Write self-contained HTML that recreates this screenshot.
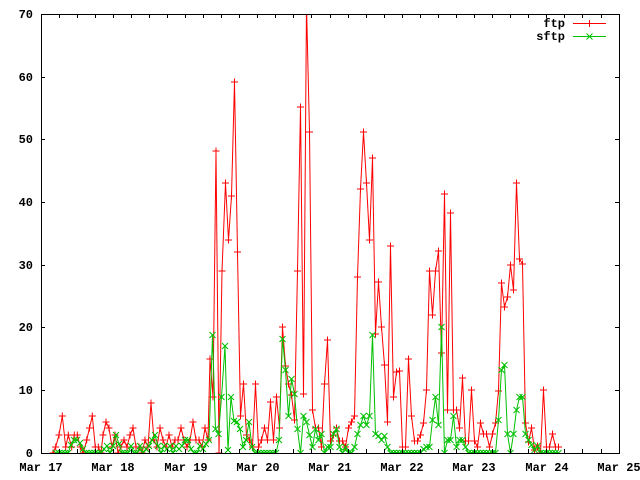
<!DOCTYPE html>
<html><head><meta charset="utf-8"><style>
html,body{margin:0;padding:0;background:#fff;}
svg{display:block;}
text{font-family:"Liberation Mono","DejaVu Sans Mono",monospace;font-weight:bold;font-size:12px;fill:#000;}
</style></head><body>
<svg width="640" height="480" viewBox="0 0 640 480" xmlns="http://www.w3.org/2000/svg">
<defs>
<clipPath id="pa"><rect x="41" y="14" width="578" height="439"/></clipPath>
<marker id="mp" markerUnits="userSpaceOnUse" markerWidth="10" markerHeight="10" refX="5" refY="5" overflow="visible">
<path d="M1.5,5H8.5M5,1.5V8.5" stroke="#ff0000" stroke-width="1" fill="none"/>
</marker>
<marker id="mx" markerUnits="userSpaceOnUse" markerWidth="10" markerHeight="10" refX="5" refY="5" overflow="visible">
<path d="M2,2L8,8M2,8L8,2" stroke="#00c000" stroke-width="1" fill="none"/>
</marker>
</defs>
<rect width="640" height="480" fill="#fff"/>
<g clip-path="url(#pa)">
<polyline fill="none" stroke="#ff0000" stroke-width="1" marker-start="url(#mp)" marker-mid="url(#mp)" marker-end="url(#mp)" points="53,453 55.7,447 59,435 62.3,416 65.7,447 68.3,435 71.7,447 74.3,435 77.3,435 80.3,447 83.3,453 86.7,440 89.5,428 92.3,416 95.3,447 98.3,447 101,453 103,435 106,422 109,428 112,447 115,435 118,453 121,447 124,440 127,447 130,435 133,428 136,447 139,447 142,453 145,440 148,447 151,403 154,440 157,447 160,428 163,440 166,447 169,435 172,447 175,440 178,440 181,428 184,440 187,447 190,440 193,422 196,440 199,440 202,447 205,428 208,440 210,359 213,397 216,151 219,453 222,271 225.5,183 228.5,240 231.5,196 234.5,82 237.5,252 240.5,416 243.5,384 246.5,435 249.5,440 252.5,447 255.5,384 258.5,447 261.5,440 264.5,428 267.5,440 270.5,402 273.5,440 276.5,397 279.5,428 282.5,327 285.5,366 288.5,384 291.5,395 294.5,420 297.5,271 300.5,107 303.5,394 306.5,5 309.5,132 312.5,410 315.5,428 318.5,428 321.5,447 324.5,384 327.5,340 330.5,441 333.5,435 336.5,428 339.5,441 342.5,441 345.5,447 348.5,428 351.5,422 354.5,416 357.5,277 360.5,189 363.5,132 366.5,183 369.5,240 372.5,158 375.5,334 378.5,282 381.5,327 384.5,365 387.5,422 390.5,246 393.5,397 396.5,372 399.5,371 402.5,447 405.5,447 408.5,359 411.5,416 414.5,441 417.5,441 420.5,435 423.5,423 426.5,390 429.5,271 432.5,315 435.5,271 438.5,251 441.5,353 444.5,194 447.5,410 450.5,213 453.5,410 456.5,410 459.5,428 462.5,378 465.5,441 468.5,441 471.5,390 474.5,441 477.5,447 480.5,423 483.5,434 486.5,434 489.5,447 492.5,434 495.5,423 498.5,391 501.5,283 504.5,307 507.5,297 510.5,265 513.5,290 516.5,183 519.5,259 522.5,264 525.5,423 528.5,442 531.5,428 534.5,450 537.5,446 540.5,453 543.5,390 546.5,447 549.5,447 552.5,434 555.5,447 558.5,447"/>
<polyline fill="none" stroke="#00c000" stroke-width="1" marker-start="url(#mx)" marker-mid="url(#mx)" marker-end="url(#mx)" points="56,453 59,453 62,453 65,453 68,453 71,445 74,440 77,440 80,443 83,449 86,453 89,453 92,453 95,453 98,453 101,453 104,449 107,446 110,453 113,446 116,435 119,444 122,453 125,453 128,453 131,446 134,453 137,453 140,446 143,453 146,449 149,446 152,440 155,435 158,446 161,453 164,446 167,449 170,446 173,453 176,446 179,449 182,446 185,440 188,440 191,449 194,453 197,453 200,446 203,449 206,444 209,440 212.5,335 215.5,429 218.5,434 221.5,397 225,346 228,450 231,397 234,421 237,422 240,429 243,447 246,440 249,422 252,447 255,453 258,453 261,453 264,453 267,453 270,453 273,453 276,453 279,440 282.5,339 285.5,370 288.5,416 291.5,379 294.5,394 297.5,429 300.5,453 303.5,416 306.5,422 309.5,435 312.5,447 315.5,429 318.5,440 321.5,434 324.5,453 327.5,447 330.5,447 333.5,434 336.5,429 339.5,447 342.5,453 345.5,447 348.5,453 351.5,453 354.5,447 357.5,434 360.5,425 363.5,416 366.5,425 369.5,416 372.5,335 375.5,434 378.5,436 381.5,440 384.5,436 387.5,447 390.5,453 393.5,453 396.5,453 399.5,453 402.5,453 405.5,453 408.5,453 411.5,453 414.5,453 417.5,453 420.5,453 423.5,449 426.5,447 429.5,447 432.5,420 435.5,397 438.5,425 441.5,327 444.5,453 447.5,440 450.5,440 453.5,416 456.5,447 459.5,440 462.5,440 465.5,447 468.5,453 471.5,453 474.5,453 477.5,453 480.5,453 483.5,453 486.5,453 489.5,453 492.5,453 495.5,453 498.5,420 501.5,370 504.5,365 507.5,434 510.5,453 513.5,434 516.5,410 519.5,397 522.5,397 525.5,434 528.5,440 531.5,445 534.5,450 537.5,446 540.5,453 543.5,453 546.5,453 549.5,453 552.5,453 555.5,453 558.5,453"/>
</g>
<g stroke="#000" stroke-width="1" fill="none" shape-rendering="crispEdges">
<rect x="41.5" y="14.5" width="578" height="439"/>
<path d="M41,390.5h4M41,327.5h4M41,265.5h4M41,202.5h4M41,139.5h4M41,77.5h4M619,390.5h-4M619,327.5h-4M619,265.5h-4M619,202.5h-4M619,139.5h-4M619,77.5h-4"/>
<path d="M59.5,453v-4M77.5,453v-4M95.5,453v-4M113.5,453v-4M131.5,453v-4M149.5,453v-4M167.5,453v-4M185.5,453v-4M203.5,453v-4M221.5,453v-4M239.5,453v-4M257.5,453v-4M275.5,453v-4M293.5,453v-4M311.5,453v-4M330.5,453v-4M348.5,453v-4M366.5,453v-4M384.5,453v-4M402.5,453v-4M420.5,453v-4M438.5,453v-4M456.5,453v-4M474.5,453v-4M492.5,453v-4M510.5,453v-4M528.5,453v-4M546.5,453v-4M564.5,453v-4M582.5,453v-4M601.5,453v-4"/>
<path d="M59.5,14v4M77.5,14v4M95.5,14v4M113.5,14v4M131.5,14v4M149.5,14v4M167.5,14v4M185.5,14v4M203.5,14v4M221.5,14v4M239.5,14v4M257.5,14v4M275.5,14v4M293.5,14v4M311.5,14v4M330.5,14v4M348.5,14v4M366.5,14v4M384.5,14v4M402.5,14v4M420.5,14v4M438.5,14v4M456.5,14v4M474.5,14v4M492.5,14v4M510.5,14v4M528.5,14v4M546.5,14v4M564.5,14v4M582.5,14v4M601.5,14v4"/>
</g>
<g text-anchor="end">
<text x="33" y="457">0</text>
<text x="33" y="394">10</text>
<text x="33" y="331">20</text>
<text x="33" y="269">30</text>
<text x="33" y="206">40</text>
<text x="33" y="143">50</text>
<text x="33" y="81">60</text>
<text x="33" y="18">70</text>
</g>
<g text-anchor="middle">
<text x="41" y="471">Mar 17</text>
<text x="113" y="471">Mar 18</text>
<text x="186" y="471">Mar 19</text>
<text x="258" y="471">Mar 20</text>
<text x="330" y="471">Mar 21</text>
<text x="402" y="471">Mar 22</text>
<text x="474" y="471">Mar 23</text>
<text x="547" y="471">Mar 24</text>
<text x="619" y="471">Mar 25</text>
</g>
<text x="565" y="27" text-anchor="end">ftp</text>
<text x="565" y="40" text-anchor="end">sftp</text>
<g shape-rendering="crispEdges" fill="none" stroke-width="1">
<path d="M573,23.5H606M589.5,20V27" stroke="#ff0000"/>
<path d="M573,36.5H606" stroke="#00c000"/>
</g>
<path d="M586.5,33.5l6,6M586.5,39.5l6,-6" stroke="#00c000" stroke-width="1" fill="none"/>
</svg>
</body></html>
